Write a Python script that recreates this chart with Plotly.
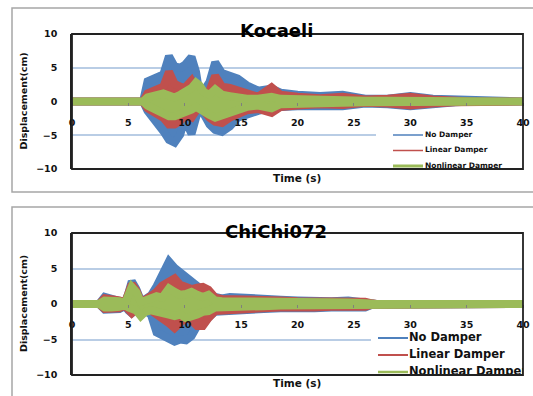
import plotly.graph_objects as go

# ---- Kocaeli record: time (s) and displacement envelopes (cm) ----
t_koc = [0, 6.3, 6.7, 7.5, 8.1, 8.6, 9.1, 9.6, 10.0, 10.6, 11.0, 11.3, 11.7, 12.2, 12.7, 13.3,
         14.0, 14.7, 15.5, 16.5, 17.7, 18.5, 20, 22, 24, 26, 28, 30, 32, 34, 35.5, 40]
koc_none_up = [0, 0, 3.0, 3.6, 4.0, 6.7, 5.2, 5.0, 5.4, 6.6, 4.4, 1.2, 1.6, 2.9, 5.8, 4.2,
               3.8, 3.4, 2.4, 1.6, 1.9, 1.3, 1.0, 0.8, 1.0, 0.4, 0.4, 0.8, 0.4, 0.3, 0, 0]
koc_none_lo = [0, 0, -1.4, -3.3, -4.4, -5.7, -6.1, -4.9, -2.6, -4.8, -2.4, -1.0, -1.9, -3.4, -4.2, -4.5,
               -3.7, -2.4, -2.0, -1.4, -0.9, -0.8, -0.7, -0.6, -0.7, -0.3, -0.4, -0.7, -0.5, -0.1, 0, 0]
koc_lin_up = [0, 0, 1.2, 1.6, 2.2, 4.4, 2.6, 2.2, 2.0, 3.1, 1.9, 0.9, 1.0, 1.6, 3.8, 2.2,
              2.0, 1.6, 1.0, 0.7, 2.1, 1.0, 0.7, 0.5, 0.7, 0.3, 0.4, 0.7, 0.3, 0.1, 0, 0]
koc_lin_lo = [0, 0, -1.0, -1.8, -2.4, -3.4, -3.4, -2.9, -2.0, -2.4, -1.4, -0.6, -1.4, -2.4, -3.0, -3.2,
              -2.4, -1.8, -1.3, -1.1, -1.7, -0.8, -0.6, -0.4, -0.5, -0.2, -0.3, -0.6, -0.3, -0.1, 0, 0]
koc_nl_up = [0, 0, 0.6, 1.0, 1.2, 0.9, 0.6, 1.0, 1.4, 2.0, 2.8, 2.4, 1.4, 1.0, 1.8, 1.0,
             0.8, 0.6, 0.4, 0.4, 0.7, 0.4, 0.3, 0.2, 0.2, 0.1, 0.1, 0.1, 0.1, 0, 0, 0]
koc_nl_lo = [0, 0, -0.6, -1.2, -1.8, -2.2, -2.2, -2.0, -1.6, -1.2, -0.8, -1.0, -1.6, -2.0, -2.4, -2.2,
             -1.8, -1.2, -0.8, -0.6, -1.0, -0.4, -0.3, -0.2, -0.2, -0.1, -0.1, -0.1, -0.1, 0, 0, 0]

# ---- ChiChi072 record ----
t_chi = [0, 2.4, 2.9, 3.5, 4.2, 4.7, 5.0, 5.3, 5.7, 6.1, 6.5, 7.0, 7.5, 8.0, 8.6, 9.1, 9.6, 10.1,
         10.6, 11.1, 11.6, 12.1, 12.7, 13.3, 14, 15.5, 17, 18.5, 20, 21.5, 23, 24.5, 26, 26.6, 27, 40]
chi_none_up = [0, 0, 1.0, 0.8, 0.5, 0.2, 1.5, 3.2, 2.1, 0.5, 0.7, 1.2, 2.5, 4.3, 6.0, 5.1, 4.5, 3.7,
               3.1, 2.5, 1.9, 1.3, 1.0, 0.8, 1.0, 0.8, 0.7, 0.6, 0.5, 0.4, 0.4, 0.5, 0.3, 0.1, 0, 0]
chi_none_lo = [0, 0, -0.8, -0.9, -0.7, -0.3, -0.9, -1.3, -0.8, -0.5, -0.9, -1.5, -4.0, -4.7, -4.9, -5.3, -5.0, -5.1,
               -4.5, -3.1, -2.9, -1.9, -1.1, -0.9, -0.9, -0.8, -0.7, -0.6, -0.5, -0.6, -0.5, -0.4, -0.5, -0.1, 0, 0]
chi_lin_up = [0, 0, 0.8, 0.7, 0.5, 0.2, 1.3, 2.8, 1.9, 0.4, 0.6, 1.0, 1.7, 2.6, 3.3, 3.6, 2.7, 2.3,
              2.1, 2.3, 2.4, 2.0, 0.9, 0.7, 0.7, 0.6, 0.5, 0.5, 0.4, 0.4, 0.3, 0.4, 0.3, 0.1, 0, 0]
chi_lin_lo = [0, 0, -0.7, -0.8, -0.6, -0.2, -0.8, -1.3, -0.7, -0.4, -0.8, -0.9, -1.7, -2.1, -2.7, -3.4, -2.5, -1.9,
              -2.3, -3.1, -3.1, -2.0, -1.0, -0.7, -0.8, -0.7, -0.6, -0.5, -0.4, -0.5, -0.4, -0.3, -0.4, -0.1, 0, 0]
chi_nl_up = [0, 0, 0.5, 0.5, 0.4, 0.1, 1.1, 2.4, 1.7, 0.3, 0.5, 0.9, 1.1, 0.9, 2.2, 1.7, 1.3, 1.4,
             1.7, 1.3, 1.0, 1.3, 0.5, 0.4, 0.4, 0.3, 0.3, 0.2, 0.2, 0.2, 0.2, 0.2, 0.1, 0, 0, 0]
chi_nl_lo = [0, 0, -0.5, -0.5, -0.4, -0.1, -0.5, -0.8, -0.9, -1.7, -1.1, -0.9, -1.0, -1.3, -1.5, -1.7, -1.5, -2.0,
             -1.9, -1.5, -1.1, -1.0, -0.5, -0.4, -0.4, -0.3, -0.3, -0.2, -0.2, -0.2, -0.2, -0.2, -0.1, 0, 0, 0]

series_names = ["No Damper", "Linear Damper", "Nonlinear Damper"]
series_colors = ["#4F81BD", "#C0504D", "#9BBB59"]
x_ticks = [0, 5, 10, 15, 20, 25, 30, 35, 40]
y_ticks = [-10, -5, 0, 5, 10]
X_RANGE = [0, 40]
Y_RANGE = [-10, 10]

W, H = 533, 396
LBL = "DejaVu Sans"
PLOT_L, PLOT_R = 72, 523


def px_x(v):
    return v / W


def px_y(v):
    return 1 - v / H


panels = [
    dict(title="Kocaeli", t=t_koc,
         env=[(koc_none_up, koc_none_lo), (koc_lin_up, koc_lin_lo), (koc_nl_up, koc_nl_lo)],
         top=34, bottom=169, frame=(8, 192), title_y=30, xtitle_y=178,
         leg=dict(box=(376, 128), line=(393, 423), rows=(135, 150.5, 166), text_x=425,
                  font=7.5, widths=(1.5, 1.5, 3))),
    dict(title="ChiChi072", t=t_chi,
         env=[(chi_none_up, chi_none_lo), (chi_lin_up, chi_lin_lo), (chi_nl_up, chi_nl_lo)],
         top=233, bottom=375, frame=(207, 420), title_y=231, xtitle_y=383,
         leg=dict(box=(371, 330), line=(378, 408), rows=(338, 355, 372), text_x=409,
                  font=11.5, widths=(2, 2, 2.5))),
]

fig = go.Figure()
x_dom = [px_x(PLOT_L), px_x(PLOT_R)]

for i, p in enumerate(panels):
    xa = "x" if i == 0 else "x2"
    ya = "y" if i == 0 else "y2"
    t = p["t"]

    # pixel -> data helpers for this panel (used for the in-plot legend)
    def dx(px):
        return X_RANGE[0] + (px - PLOT_L) / (PLOT_R - PLOT_L) * (X_RANGE[1] - X_RANGE[0])

    def dy(py, p=p):
        return Y_RANGE[1] - (py - p["top"]) / (p["bottom"] - p["top"]) * (Y_RANGE[1] - Y_RANGE[0])

    # each response drawn as its thick-line envelope band
    for name, color, (up, lo) in zip(series_names, series_colors, p["env"]):
        fig.add_trace(go.Scatter(
            x=list(t) + list(reversed(t)),
            y=list(up) + list(reversed(lo)),
            mode="lines", fill="toself", fillcolor=color,
            line=dict(color=color, width=8),
            showlegend=False, hoverinfo="skip", xaxis=xa, yaxis=ya))

    # legend inside the plot area, clipped by the plot border
    lg = p["leg"]
    fig.add_shape(type="rect", xref=xa, yref=ya,
                  x0=dx(lg["box"][0]), x1=X_RANGE[1], y0=Y_RANGE[0], y1=dy(lg["box"][1]),
                  fillcolor="white", line=dict(width=0), layer="between")
    for name, color, w, row in zip(series_names, series_colors, lg["widths"], lg["rows"]):
        fig.add_trace(go.Scatter(
            x=[dx(lg["line"][0]), dx(lg["line"][1])], y=[dy(row), dy(row)],
            mode="lines", line=dict(color=color, width=w),
            showlegend=False, hoverinfo="skip", xaxis=xa, yaxis=ya))
        fig.add_trace(go.Scatter(
            x=[dx(lg["text_x"])], y=[dy(row)], mode="text", text=[name],
            textposition="middle right", cliponaxis=True,
            textfont=dict(family=LBL, size=lg["font"], color="#111", weight="bold"),
            showlegend=False, hoverinfo="skip", xaxis=xa, yaxis=ya))

    y_dom = [px_y(p["bottom"]), px_y(p["top"])]
    sfx = "" if i == 0 else "2"
    fig.update_layout({
        "xaxis" + sfx: dict(
            domain=x_dom, range=X_RANGE, tickvals=x_ticks, anchor="free",
            position=(y_dom[0] + y_dom[1]) / 2, showline=False, showgrid=False,
            zeroline=False, ticks="outside", ticklen=3, tickcolor="#7f7f7f",
            ticklabelstandoff=9, automargin=False,
            tickfont=dict(family=LBL, size=9.5, color="#111", weight="bold")),
        "yaxis" + sfx: dict(
            domain=y_dom, range=Y_RANGE, tickvals=y_ticks, anchor=xa,
            showline=True, linecolor="#222", linewidth=1.5,
            showgrid=True, gridcolor="#B9CDE5", gridwidth=1.5, zeroline=False,
            ticks="", ticklabelstandoff=11, automargin=False,
            tickfont=dict(family=LBL, size=9.5, color="#111", weight="bold")),
    })

    # plot-area border
    fig.add_shape(type="rect", xref=xa + " domain", yref=ya + " domain",
                  x0=0, x1=1, y0=0, y1=1, line=dict(color="#222", width=1.8), layer="above")
    # outer chart frame
    f0, f1 = p["frame"]
    fig.add_shape(type="rect", xref="paper", yref="paper",
                  x0=px_x(12), x1=px_x(545), y0=px_y(f1), y1=px_y(f0),
                  line=dict(color="#A6A6A6", width=1.5), layer="below")

    fig.add_annotation(text=p["title"], xref="paper", yref="paper",
                       x=px_x(276), y=px_y(p["title_y"]), xanchor="center", yanchor="middle",
                       showarrow=False,
                       font=dict(family=LBL, size=18, color="#000", weight="bold"))
    fig.add_annotation(text="Time (s)", xref="paper", yref="paper",
                       x=px_x(297), y=px_y(p["xtitle_y"]), xanchor="center", yanchor="middle",
                       showarrow=False,
                       font=dict(family=LBL, size=10.5, color="#111", weight="bold"))
    fig.add_annotation(text="Displacement(cm)", xref="paper", yref="paper",
                       x=px_x(23), y=(y_dom[0] + y_dom[1]) / 2, xanchor="center", yanchor="middle",
                       textangle=-90, showarrow=False,
                       font=dict(family=LBL, size=9.5, color="#111", weight="bold"))

fig.update_layout(
    width=W, height=H, autosize=False, margin=dict(l=0, r=0, t=0, b=0, pad=0, autoexpand=False),
    paper_bgcolor="white", plot_bgcolor="white", showlegend=False,
)

fig.write_html("out.html")
